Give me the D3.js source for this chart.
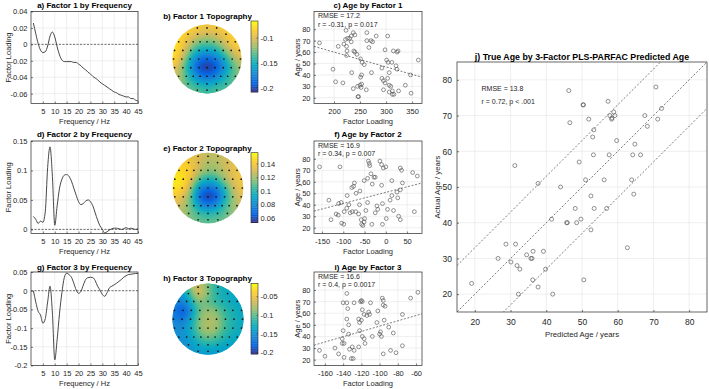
<!DOCTYPE html>
<html><head><meta charset="utf-8">
<script src="https://cdn.jsdelivr.net/npm/d3@7"></script>
<style>
body{margin:0;background:#fff;}
svg{display:block;}
</style></head><body>
<svg id="chart" width="709" height="389"></svg>
<script>
// ---------------- DATA ----------------
const frequencyHz = [1,2,3,4,5,6,7,8,9,10,11,12,13,14,15,16,17,18,19,20,21,22,23,24,25,26,27,28,29,30,31,32,33,34,35,36,37,38,39,40,41,42,43,44,45];
const factor1Loading = [0.026,0.013,0.001,-0.007,-0.010,-0.009,-0.002,0.010,0.015,0.009,-0.003,-0.013,-0.019,-0.021,-0.021,-0.021,-0.021,-0.022,-0.022,-0.024,-0.026,-0.029,-0.031,-0.034,-0.036,-0.039,-0.041,-0.043,-0.046,-0.048,-0.050,-0.052,-0.054,-0.056,-0.058,-0.059,-0.061,-0.062,-0.063,-0.064,-0.064,-0.066,-0.066,-0.068,-0.069];
const factor2Loading = [0.022,0.017,0.010,0.014,0.012,0.030,0.105,0.140,0.090,0.007,0.040,0.070,0.085,0.092,0.093,0.090,0.082,0.070,0.058,0.047,0.042,0.044,0.048,0.050,0.047,0.040,0.028,0.016,0.006,0.000,-0.006,-0.004,-0.001,0.001,0.002,0.002,0.001,0.000,0.001,0.003,0.001,0.002,0.001,0.000,0.001];
const factor3Loading = [0.000,-0.030,-0.055,-0.065,-0.087,-0.075,-0.030,0.012,-0.060,-0.185,-0.130,-0.060,-0.005,0.035,0.047,0.043,0.036,0.020,0.002,-0.007,-0.002,0.015,0.030,0.035,0.036,0.035,0.027,0.012,0.002,-0.010,-0.015,-0.005,0.008,0.012,0.016,0.020,0.025,0.030,0.036,0.040,0.043,0.044,0.045,0.046,0.046];
const freqTicks = [5,10,15,20,25,30,35,40,45];
const loadTicks1 = [0.04,0.02,0,-0.02,-0.04,-0.06];
const loadTicks2 = [0,0.05,0.1,0.15];
const loadTicks3 = [0.05,0,-0.05,-0.1,-0.15,-0.2];

// electrode layout (head coordinates, rows front to back)
const electrodeRowY = [-0.9,-0.72,-0.5,-0.25,0,0.25,0.5,0.72,0.9];
const electrodeRowX = [
  [-0.28,0,0.28],
  [-0.55,-0.27,0,0.27,0.55],
  [-0.82,-0.6,-0.4,-0.2,0,0.2,0.4,0.6,0.82],
  [-0.94,-0.7,-0.47,-0.23,0,0.23,0.47,0.7,0.94],
  [-0.97,-0.73,-0.49,-0.24,0,0.24,0.49,0.73,0.97],
  [-0.94,-0.7,-0.47,-0.23,0,0.23,0.47,0.7,0.94],
  [-0.82,-0.6,-0.4,-0.2,0,0.2,0.4,0.6,0.82],
  [-0.55,-0.27,0,0.27,0.55],
  [-0.28,0,0.28]];
const topo1Values = [
  -0.085,-0.088,-0.085,
  -0.078,-0.095,-0.105,-0.098,-0.082,
  -0.075,-0.090,-0.115,-0.125,-0.130,-0.125,-0.112,-0.090,-0.078,
  -0.070,-0.090,-0.130,-0.155,-0.160,-0.155,-0.132,-0.100,-0.085,
  -0.072,-0.100,-0.150,-0.185,-0.195,-0.185,-0.160,-0.120,-0.100,
  -0.090,-0.120,-0.170,-0.205,-0.212,-0.205,-0.180,-0.140,-0.115,
  -0.105,-0.130,-0.160,-0.185,-0.190,-0.185,-0.165,-0.140,-0.120,
  -0.125,-0.145,-0.155,-0.145,-0.130,
  -0.120,-0.135,-0.125];
const topo2Values = [
  0.132,0.126,0.128,
  0.140,0.132,0.122,0.124,0.132,
  0.145,0.148,0.138,0.124,0.118,0.118,0.126,0.132,0.138,
  0.152,0.154,0.136,0.105,0.094,0.100,0.120,0.136,0.140,
  0.150,0.150,0.124,0.078,0.068,0.074,0.100,0.130,0.140,
  0.140,0.136,0.108,0.060,0.048,0.056,0.086,0.122,0.134,
  0.128,0.124,0.104,0.078,0.070,0.078,0.096,0.116,0.126,
  0.118,0.110,0.104,0.106,0.116,
  0.114,0.110,0.114];
const topo3Values = [
  -0.070,-0.095,-0.125,
  -0.125,-0.030,-0.085,-0.120,-0.132,
  -0.150,-0.165,-0.100,-0.092,-0.105,-0.112,-0.122,-0.128,-0.132,
  -0.158,-0.210,-0.155,-0.090,-0.078,-0.085,-0.112,-0.122,-0.132,
  -0.152,-0.178,-0.135,-0.085,-0.072,-0.076,-0.108,-0.122,-0.132,
  -0.152,-0.152,-0.125,-0.080,-0.070,-0.075,-0.104,-0.122,-0.128,
  -0.152,-0.148,-0.130,-0.095,-0.085,-0.095,-0.114,-0.128,-0.134,
  -0.148,-0.135,-0.125,-0.130,-0.138,
  -0.145,-0.145,-0.145];
const colorRange1 = [-0.208,-0.0656];
const colorRange2 = [0.054,0.1565];
const colorRange3 = [-0.2035,-0.014];
const cbTicks1 = [-0.1,-0.15,-0.2];
const cbTicks2 = [0.14,0.12,0.1,0.08,0.06];
const cbTicks3 = [-0.05,-0.1,-0.15,-0.2];

// age by factor scatter data: [factor loading, age]
const ageByFactor1 = [[172,68],[198,45],[203,34],[208,65],[217,33],[223,79],[222,71],[226,72],[230,72],[219,67],[224,65],[225,61],[224,57],[234,42],[233,74],[237,77],[240,75],[233,69],[238,61],[240,60],[244,58],[251,54],[254,51],[237,28],[246,21],[247,21],[251,38],[253,40],[245,30],[250,31],[253,32],[252,29],[258,49],[263,77],[263,70],[271,70],[274,69],[267,64],[272,42],[262,27],[281,74],[303,74],[298,62],[311,51],[301,53],[304,51],[314,61],[321,60],[306,42],[303,37],[295,35],[298,33],[306,31],[309,30],[312,26],[306,25],[321,45],[324,26],[312,23],[315,23],[295,27],[292,37],[292,46],[323,61],[362,53],[347,40],[337,31],[348,24],[319,48]];
const ageByFactor2 = [[-156,73],[-134,44],[-129,27],[-117,32],[-112,31],[-108,73],[-111,41],[-105,42],[-104,24],[-99,23],[-98,34],[-92,37],[-87,40],[-84,33],[-79,34],[-91,48],[-80,55],[-76,56],[-74,59],[-70,50],[-71,34],[-64,32],[-61,52],[-62,40],[-57,23],[-54,22],[-51,25],[-58,27],[-50,28],[-47,35],[-51,61],[-43,63],[-41,78],[-39,76],[-38,74],[-35,67],[-28,64],[-25,64],[-32,58],[-43,42],[-33,23],[-21,39],[-19,36],[-25,33],[-14,78],[-10,75],[-6,72],[0,73],[-10,57],[-8,41],[-8,23],[34,72],[37,70],[63,68],[74,65],[39,59],[26,51],[34,53],[28,46],[67,34],[34,27],[14,48],[10,44],[4,36],[18,35],[1,28],[30,30],[14,61]];
const ageByFactor3 = [[-166,28],[-160,23],[-149,30],[-145,25],[-139,22],[-141,38],[-140,45],[-141,34],[-139,34],[-140,69],[-136,69],[-136,77],[-135,64],[-136,55],[-134,50],[-134,42],[-133,29],[-130,31],[-128,28],[-131,21],[-129,21],[-128,69],[-123,55],[-122,52],[-120,54],[-122,45],[-123,31],[-121,70],[-120,71],[-119,70],[-119,63],[-119,40],[-117,38],[-117,59],[-114,58],[-116,34],[-112,61],[-111,59],[-110,69],[-108,40],[-103,52],[-102,62],[-100,42],[-99,44],[-97,73],[-96,71],[-96,67],[-94,66],[-98,40],[-95,54],[-96,25],[-66,73],[-58,78],[-75,59],[-75,32],[-85,43],[-82,26],[-90,48],[-88,28]];
const fitFactor1 = [[161.5,65],[369,38]];
const fitFactor2 = [[-169,34.5],[85,59]];
const fitFactor3 = [[-172,32.5],[-53.5,59.5]];
const statsFactor1 = ["RMSE = 17.2","r = -0.31, p = 0.017"];
const statsFactor2 = ["RMSE = 16.9","r = 0.34, p = 0.007"];
const statsFactor3 = ["RMSE = 16.6","r = 0.4, p = 0.0017"];
const ageTicks = [20,30,40,50,60,70,80];
const loadingTicks1 = [200,250,300,350];
const loadingTicks2 = [-150,-100,-50,0,50];
const loadingTicks3 = [-160,-140,-120,-100,-80,-60];

// true age by predicted age
const predictedAge = [31.2,37.7,44,46.3,46.6,49.2,50.3,50.4,51,51.9,52.5,53,53.3,53.2,56.2,57.3,57.8,58.3,58.9,59.2,58.4,57.6,59.7,64.2,64.8,63.9,64.5,66.4,67.6,68.3,70.7,71.2,72.3,19.1,26.5,28.7,30.1,31.4,31.8,32.6,32.2,34.5,35.7,36,36.3,36.2,37.7,39.2,39.8,41.8,41.5,45.7,45.9,48.1,48.5,49.7,50.5,52.5,53.4,56.9,62.7];
const actualAge    = [56,51,50,77,68,57,73,73,52,69,47.5,64,66,59,52,74,70,69,71,70,69.3,59,63,59,62,52,48,59,70,67,78,69,72,23,30,34,29,34,28,27,20,31,30,30,32,24,22,32,27,20,41,40,40,44,40,41,24,38,44,44,33];
const bandOffsets = [-13,0,13];
const jTicks = [20,30,40,50,60,70,80];
const statsJ = ["RMSE = 13.8","r = 0.72, p < .001"];

// ---------------- DRAWING ----------------
const svg = d3.select("#chart");
const FONT = "'Liberation Sans', Arial, Helvetica, sans-serif";
const INK = "#262626";
const GRID = "#e4e4e4";
const fmt = d => String(d);
svg.attr("font-family", FONT);

function axesFrame(g, x, y, xt, yt, o) {
  const [x0, x1] = x.range();
  const [yb, yt0] = y.range();
  g.append("g").selectAll("line").data(xt).join("line")
    .attr("x1", d => x(d)).attr("x2", d => x(d)).attr("y1", yt0).attr("y2", yb)
    .attr("stroke", GRID).attr("stroke-width", 0.6);
  g.append("g").selectAll("line").data(yt).join("line")
    .attr("y1", d => y(d)).attr("y2", d => y(d)).attr("x1", x0).attr("x2", x1)
    .attr("stroke", GRID).attr("stroke-width", 0.6);
  const ax = g.append("g").attr("transform", `translate(0,${yb})`)
    .call(d3.axisBottom(x).tickValues(xt).tickFormat(fmt).tickSizeInner(-2).tickSizeOuter(0).tickPadding(o.xPad));
  const ay = g.append("g").attr("transform", `translate(${x0},0)`)
    .call(d3.axisLeft(y).tickValues(yt).tickFormat(fmt).tickSizeInner(-2).tickSizeOuter(0).tickPadding(o.yPad));
  [ax, ay].forEach(a => {
    a.select(".domain").remove();
    a.attr("font-family", FONT);
    a.selectAll("line").attr("stroke", INK).attr("stroke-width", 0.6);
    a.selectAll("text").attr("font-size", o.fs).attr("fill", INK);
  });
  g.append("rect").attr("x", x0).attr("y", yt0).attr("width", x1 - x0).attr("height", yb - yt0)
    .attr("fill", "none").attr("stroke", INK).attr("stroke-width", 0.7);
  g.append("text").attr("x", (x0 + x1) / 2).attr("y", yb + o.xLabOff).attr("text-anchor", "middle")
    .attr("font-size", o.labFs).attr("fill", INK).text(o.xLabel);
  g.append("text").attr("transform", `translate(${o.yLabX},${(yt0 + yb) / 2}) rotate(-90)`)
    .attr("text-anchor", "middle").attr("font-size", o.labFs).attr("fill", INK).text(o.yLabel);
  g.append("text").attr("x", (x0 + x1) / 2).attr("y", o.titleY).attr("text-anchor", "middle")
    .attr("font-size", o.titleFs).attr("font-weight", "bold").attr("fill", "#000").text(o.title);
}

const rows = [[11.5, 103.5], [141, 233.5], [272, 365.5]];

// ---- frequency line panels ----
const lineDefs = [
  {vals: factor1Loading, dom: [-0.072, 0.04], ticks: loadTicks1, title: "a) Factor 1 by Frequency", row: 0, titleY: 8},
  {vals: factor2Loading, dom: [-0.007, 0.15], ticks: loadTicks2, title: "d) Factor 2 by Frequency", row: 1, titleY: 137},
  {vals: factor3Loading, dom: [-0.2, 0.05], ticks: loadTicks3, title: "g) Factor 3 by Frequency", row: 2, titleY: 269.5}
];
lineDefs.forEach((p) => {
  const [top, bot] = rows[p.row];
  const x = d3.scaleLinear().domain([0, 45]).range([31, 138]);
  const y = d3.scaleLinear().domain(p.dom).range([bot, top]);
  const g = svg.append("g");
  axesFrame(g, x, y, freqTicks, p.ticks, {xPad: 5, yPad: 3.5, fs: 7.5, labFs: 7.5, xLabOff: 20.3,
    yLabX: 10.5, xLabel: "Frequency / Hz", yLabel: "Factor Loading", title: p.title, titleY: p.titleY, titleFs: 8});
  g.append("line").attr("x1", x(0)).attr("x2", x(45)).attr("y1", y(0)).attr("y2", y(0))
    .attr("stroke", "#333").attr("stroke-width", 0.7).attr("stroke-dasharray", "2,1.5");
  g.append("path").datum(frequencyHz.map((f, i) => [f, p.vals[i]]))
    .attr("d", d3.line().x(d => x(d[0])).y(d => y(d[1])).curve(d3.curveMonotoneX))
    .attr("fill", "none").attr("stroke", "#333").attr("stroke-width", 0.9);
});

// ---- topographies ----
const parula = ["#352a87","#0363e1","#1485d4","#06a7c6","#38b99e","#92bf73","#d9ba56","#fcce2e","#f9fb0e"];
function cmap(range) {
  return d3.scaleLinear().domain(parula.map((c, i) => range[0] + (range[1] - range[0]) * i / 8))
    .range(parula).interpolate(d3.interpolateRgb).clamp(true);
}
const ex = [], ey = [];
electrodeRowY.forEach((yy, r) => electrodeRowX[r].forEach(xx => { ex.push(xx); ey.push(yy); }));

const topoDefs = [
  {vals: topo1Values, range: colorRange1, ticks: cbTicks1, cx: 207, cy: 59, r: 34.5, cb: [21, 92], title: "b) Factor 1 Topography", titleY: 19},
  {vals: topo2Values, range: colorRange2, ticks: cbTicks2, cx: 208, cy: 188, r: 35.3, cb: [152.7, 222.7], title: "e) Factor 2 Topography", titleY: 151},
  {vals: topo3Values, range: colorRange3, ticks: cbTicks3, cx: 208, cy: 319.2, r: 35.6, cb: [283.3, 354], title: "h) Factor 3 Topography", titleY: 281}
];
const sigma = 0.16;
topoDefs.forEach((t, ti) => {
  const g = svg.append("g");
  const hx = d3.scaleLinear().domain([-1, 1]).range([t.cx - t.r, t.cx + t.r]);
  const hy = d3.scaleLinear().domain([-1, 1]).range([t.cy - t.r, t.cy + t.r]);
  const color = cmap(t.range);
  const n = Math.round(2 * t.r) + 2;
  const step = 2 / (n - 2);
  const cells = [];
  for (let i = 0; i < n; i++) for (let j = 0; j < n; j++) {
    const u = -1 - step + (i + 0.5) * step, v = -1 - step + (j + 0.5) * step;
    if (u * u + v * v > (1 + 1.5 * step) * (1 + 1.5 * step)) continue;
    let ws = 0, vs = 0;
    for (let k = 0; k < ex.length; k++) {
      const dx = u - ex[k], dy = v - ey[k];
      const w = Math.exp(-(dx * dx + dy * dy) / (2 * sigma * sigma));
      ws += w; vs += w * t.vals[k];
    }
    cells.push({u, v, val: vs / ws});
  }
  const clipId = "headclip" + ti;
  g.append("clipPath").attr("id", clipId).append("circle").attr("cx", hx(0)).attr("cy", hy(0)).attr("r", hx(1) - hx(0));
  g.append("g").attr("clip-path", `url(#${clipId})`).selectAll("rect").data(cells).join("rect")
    .attr("x", d => hx(d.u - step / 2)).attr("y", d => hy(d.v - step / 2))
    .attr("width", hx(step) - hx(0) + 0.45).attr("height", hy(step) - hy(0) + 0.45)
    .attr("fill", d => color(d.val));
  g.append("g").selectAll("circle").data(ex.map((xx, k) => [xx, ey[k]])).join("circle")
    .attr("cx", d => hx(d[0])).attr("cy", d => hy(d[1])).attr("r", 0.85).attr("fill", "#111");
  const cbY = d3.scaleLinear().domain(t.range).range([t.cb[1], t.cb[0]]);
  const steps = d3.range(0, 100).map(i => t.range[0] + (t.range[1] - t.range[0]) * (i + 0.5) / 100);
  const dv = (t.range[1] - t.range[0]) / 100;
  g.append("g").selectAll("rect").data(steps).join("rect")
    .attr("x", 251).attr("width", 7).attr("y", d => cbY(d + dv / 2)).attr("height", d => cbY(d - dv / 2) - cbY(d + dv / 2) + 0.3)
    .attr("fill", d => color(d));
  g.append("rect").attr("x", 251).attr("y", t.cb[0]).attr("width", 7).attr("height", t.cb[1] - t.cb[0])
    .attr("fill", "none").attr("stroke", INK).attr("stroke-width", 0.6);
  g.append("g").selectAll("line").data(t.ticks).join("line")
    .attr("x1", 256.5).attr("x2", 258).attr("y1", d => cbY(d)).attr("y2", d => cbY(d)).attr("stroke", INK).attr("stroke-width", 0.5);
  g.append("g").selectAll("text").data(t.ticks).join("text")
    .attr("x", 260.5).attr("y", d => cbY(d)).attr("dy", "0.34em").attr("font-size", 7.5).attr("fill", INK).text(fmt);
  g.append("text").attr("x", 207.5).attr("y", t.titleY).attr("text-anchor", "middle")
    .attr("font-size", 8).attr("font-weight", "bold").attr("fill", "#000").text(t.title);
});

// ---- age-by-factor scatters ----
const ageDomain = [15, 95.5];
const scatterDefs = [
  {pts: ageByFactor1, fit: fitFactor1, stats: statsFactor1, dom: [161.5, 369], ticks: loadingTicks1, row: 0, title: "c) Age by Factor 1", titleY: 8},
  {pts: ageByFactor2, fit: fitFactor2, stats: statsFactor2, dom: [-169, 85], ticks: loadingTicks2, row: 1, title: "f) Age by Factor 2", titleY: 136.5},
  {pts: ageByFactor3, fit: fitFactor3, stats: statsFactor3, dom: [-172, -53.5], ticks: loadingTicks3, row: 2, title: "i) Age by Factor 3", titleY: 269.5}
];
scatterDefs.forEach((s) => {
  const [top, bot] = rows[s.row];
  const x = d3.scaleLinear().domain(s.dom).range([314, 422]);
  const y = d3.scaleLinear().domain(ageDomain).range([bot, top]);
  const g = svg.append("g");
  axesFrame(g, x, y, s.ticks, ageTicks, {xPad: 5, yPad: 3.5, fs: 7.5, labFs: 7.5, xLabOff: 20.5,
    yLabX: 299.5, xLabel: "Factor Loading", yLabel: "Age / years", title: s.title, titleY: s.titleY, titleFs: 8});
  g.append("path").datum(s.fit).attr("d", d3.line().x(d => x(d[0])).y(d => y(d[1])))
    .attr("fill", "none").attr("stroke", "#444").attr("stroke-width", 0.7).attr("stroke-dasharray", "2,1.6");
  g.append("g").selectAll("circle").data(s.pts).join("circle")
    .attr("cx", d => x(d[0])).attr("cy", d => y(d[1])).attr("r", 1.9)
    .attr("fill", "none").attr("stroke", "#4a4a4a").attr("stroke-width", 0.6);
  g.append("g").selectAll("text").data(s.stats).join("text")
    .attr("x", 318).attr("y", (d, i) => top + 6.8 + i * 8.6).attr("font-size", 7).attr("fill", INK).text(d => d);
});

// ---- panel j ----
(function () {
  const x = d3.scaleLinear().domain([15, 85]).range([457, 707]);
  const y = d3.scaleLinear().domain([15, 85]).range([312, 62]);
  const g = svg.append("g");
  axesFrame(g, x, y, jTicks, jTicks, {xPad: 7.2, yPad: 5, fs: 8.5, labFs: 7.8, xLabOff: 25,
    yLabX: 439.5, xLabel: "Predicted Age / years", yLabel: "Actual Age / years",
    title: "j) True Age by 3-Factor PLS-PARFAC Predicted Age", titleY: 60, titleFs: 8.8});
  g.append("clipPath").attr("id", "jclip").append("rect").attr("x", 457).attr("y", 62).attr("width", 250).attr("height", 250);
  g.append("g").attr("clip-path", "url(#jclip)").selectAll("path").data(bandOffsets).join("path")
    .attr("d", o => d3.line().x(d => x(d)).y(d => y(d + o))([0, 100]))
    .attr("fill", "none").attr("stroke", "#444").attr("stroke-width", 0.7).attr("stroke-dasharray", "2,1.8");
  g.append("g").selectAll("circle").data(predictedAge.map((p, i) => [p, actualAge[i]])).join("circle")
    .attr("cx", d => x(d[0])).attr("cy", d => y(d[1])).attr("r", 2)
    .attr("fill", "none").attr("stroke", "#4a4a4a").attr("stroke-width", 0.6);
  g.append("g").selectAll("text").data(statsJ).join("text")
    .attr("x", 481.5).attr("y", (d, i) => 91 + i * 13.3).attr("font-size", 7).attr("fill", INK).text(d => d);
})();
</script>
</body></html>
